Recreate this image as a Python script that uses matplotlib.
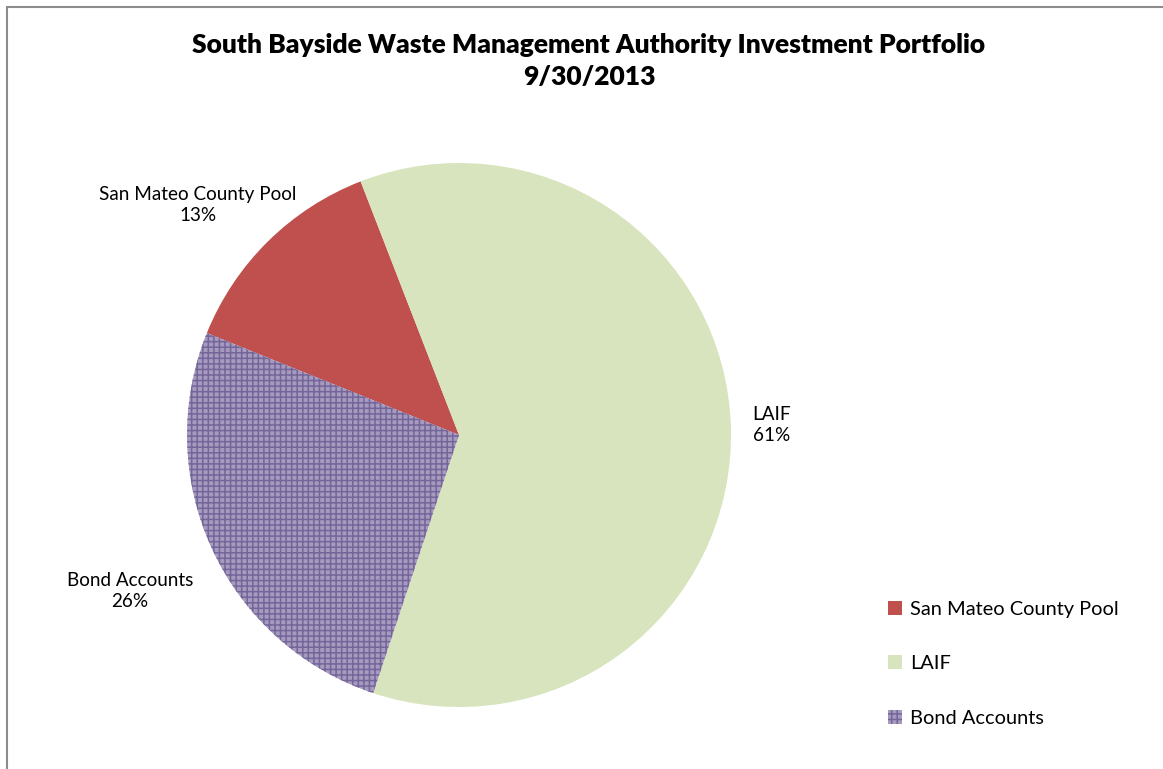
import matplotlib
matplotlib.use("Agg")
import matplotlib.pyplot as plt
from matplotlib.patches import Rectangle

categories = ["San Mateo County Pool", "LAIF", "Bond Accounts"]
shares = [13, 61, 26]
pct_labels = ["13%", "61%", "26%"]
title = "South Bayside Waste Management Authority Investment Portfolio\n9/30/2013"

colors = ["#c0504d", "#d7e4bd", "#a69bbe"]
hatches = [None, None, "+++"]

plt.rcParams['font.family'] = ['Lato', 'DejaVu Sans']
plt.rcParams['hatch.linewidth'] = 1.1

W, H = 1163, 769
fig = plt.figure(figsize=(W / 100, H / 100), dpi=100)

# outer frame (left/top visible)
fig.patches.append(Rectangle((7 / W, -0.05), 1.1, (769 - 7) / H + 0.05,
                             transform=fig.transFigure, fill=False,
                             edgecolor="#8c8c8c", linewidth=1.5))

cx, cy, r = 459, 435, 272
ax = fig.add_axes([(cx - r) / W, (H - cy - r) / H, 2 * r / W, 2 * r / H])
wedges, _ = ax.pie(shares, colors=colors, startangle=158, counterclock=False,
                   radius=1.0, wedgeprops=dict(linewidth=0))
for w, h in zip(wedges, hatches):
    if h:
        w.set_hatch(h)
        w.set_edgecolor("#74659a")
        w.set_linewidth(0)
ax.set_xlim(-1, 1)
ax.set_ylim(-1, 1)
ax.set_aspect("equal")
ax.axis("off")

fig.text(589 / W, 1 - 61 / H, title, ha="center", va="center",
         fontsize=19, fontweight="heavy", linespacing=1.38)

label_pos = [(198, 205), (772, 425), (130, 591)]
for cat, pct, (x, y) in zip(categories, pct_labels, label_pos):
    fig.text(x / W, 1 - y / H, f"{cat}\n{pct}", ha="center", va="center",
             fontsize=13.6, linespacing=1.35)

leg = fig.legend(wedges, categories, loc="upper left",
                 bbox_to_anchor=(870 / W, 1 - 583 / H), frameon=False,
                 fontsize=14.4, handlelength=0.7, handleheight=0.7,
                 handletextpad=0.4, labelspacing=1.87)

fig.savefig("out.png", dpi=100)
